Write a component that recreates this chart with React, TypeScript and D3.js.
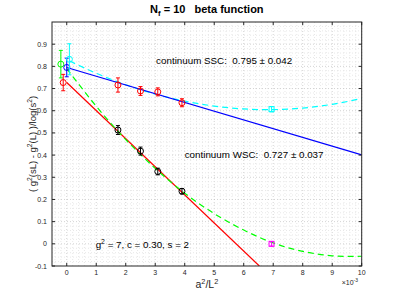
import React, {useEffect, useRef} from "react";
import {select, scaleLinear, line, curveNatural, range} from "d3";

// a^2/L^2 in units of 1e-3 (L = 24, 20, 18, 16)
const latticeX = [1.736, 2.5, 3.086, 3.906];
const sscValues = [0.716, 0.689, 0.685, 0.636];
const sscErrors = [0.032, 0.02, 0.018, 0.018];
const wscValues = [0.513, 0.418, 0.326, 0.237];
const wscErrors = [0.02, 0.018, 0.015, 0.012];

// L = 12 point, only in the quadratic fits
const coarseX = 6.944;
const coarseSsc = {value: 0.607, error: 0.012};
const coarseWsc = {value: 0.0, error: 0.01};

// continuum extrapolations (shifted a bit in x so they don't overlap)
const continuumX = [-0.2, -0.12, 0.0, 0.09];
const continuumY = [0.81, 0.727, 0.795, 0.832];
const continuumErr = [0.062, 0.037, 0.042, 0.07];
const continuumColors = ["#00ff00", "#ff0000", "#0000ff", "#00ffff"];

// linear fits
const sscLinX = [0, 10];
const sscLinY = [0.795, 0.401];
const wscLinX = [0, 6.53];
const wscLinY = [0.727, -0.1];

// quadratic fits
const wscQuadX = [0, 1, 2, 3, 4, 5, 6, 7, 8, 9, 10];
const wscQuadY = [0.79, 0.62, 0.47, 0.34, 0.228, 0.136, 0.062, 0.004, -0.034, -0.054, -0.056];
const sscQuadX = [0.1, 1, 2, 3, 4, 5, 6, 7, 8, 9, 10];
const sscQuadY = [0.824, 0.769, 0.717, 0.675, 0.643, 0.621, 0.608, 0.605, 0.612, 0.629, 0.655];

const xTicks = range(0, 11, 1);
const yTicks = [-0.1, 0, 0.1, 0.2, 0.3, 0.4, 0.5, 0.6, 0.7, 0.8, 0.9];

const FONT = "'Liberation Sans', Arial, Helvetica, sans-serif";
const AXIS_COLOR = "#262626";

const addRichText = (textSel, parts, size) => {
    let shift = 0;
    parts.forEach(p => {
        const target = p.sup ? -0.4 * size : p.sub ? 0.25 * size : 0;
        textSel.append("tspan")
            .attr("dy", target - shift)
            .attr("font-size", p.sup || p.sub ? size * 0.7 : size)
            .text(p.t);
        shift = target;
    });
};

const renderPlot = (svg) => {
    const width = 399;
    const height = 299;
    const margins = {top: 22, right: 37.3, bottom: 33, left: 52};
    const innerWidth = width - margins.left - margins.right;
    const innerHeight = height - margins.top - margins.bottom;

    svg.selectAll("*").remove();

    const xScale = scaleLinear().domain([-0.5, 10]).range([0, innerWidth]);
    const yScale = scaleLinear().domain([-0.1, 1.0]).range([innerHeight, 0]);

    svg.append("defs").append("clipPath").attr("id", "plot-clip")
        .append("rect").attr("width", innerWidth).attr("height", innerHeight);

    const g = svg.append("g")
        .attr("transform", `translate(${margins.left}, ${margins.top})`);

    g.append("rect")
        .attr("width", innerWidth)
        .attr("height", innerHeight)
        .attr("fill", "white");

    // grid (minor + major, all dotted like matlab)
    const grid = g.append("g").attr("class", "grid");
    range(-0.4, 10.01, 0.2).forEach(v => {
        const major = Math.abs(v - Math.round(v)) < 1e-6;
        grid.append("line")
            .attr("x1", xScale(v)).attr("x2", xScale(v))
            .attr("y1", 0).attr("y2", innerHeight)
            .attr("stroke", major ? "#c0c0c0" : "#dedede")
            .attr("stroke-width", 0.7)
            .attr("stroke-dasharray", "1,2");
    });
    range(-0.08, 1.0, 0.02).forEach(v => {
        const major = Math.abs(v * 10 - Math.round(v * 10)) < 1e-6;
        grid.append("line")
            .attr("x1", 0).attr("x2", innerWidth)
            .attr("y1", yScale(v)).attr("y2", yScale(v))
            .attr("stroke", major ? "#c0c0c0" : "#dedede")
            .attr("stroke-width", 0.7)
            .attr("stroke-dasharray", "1,2");
    });

    const plot = g.append("g").attr("clip-path", "url(#plot-clip)");

    const straight = line().x(d => xScale(d[0])).y(d => yScale(d[1]));
    const smooth = line().x(d => xScale(d[0])).y(d => yScale(d[1])).curve(curveNatural);

    const zip = (xs, ys) => xs.map((x, i) => [x, ys[i]]);

    plot.append("path")
        .attr("d", smooth(zip(sscQuadX, sscQuadY)))
        .attr("fill", "none").attr("stroke", "#00ffff")
        .attr("stroke-width", 1.2).attr("stroke-dasharray", "6,4");
    plot.append("path")
        .attr("d", straight(zip(sscLinX, sscLinY)))
        .attr("fill", "none").attr("stroke", "#0000ff").attr("stroke-width", 1.2);
    plot.append("path")
        .attr("d", straight(zip(wscLinX, wscLinY)))
        .attr("fill", "none").attr("stroke", "#ff0000").attr("stroke-width", 1.2);
    plot.append("path")
        .attr("d", smooth(zip(wscQuadX, wscQuadY)))
        .attr("fill", "none").attr("stroke", "#00ff00")
        .attr("stroke-width", 1.2).attr("stroke-dasharray", "6,4");

    // error bar + marker
    const errorPoint = (x, y, err, color, shape) => {
        const px = xScale(x);
        const cap = 2;
        const e = plot.append("g").attr("stroke", color).attr("stroke-width", 1).attr("fill", "none");
        e.append("line").attr("x1", px).attr("x2", px)
            .attr("y1", yScale(y - err)).attr("y2", yScale(y + err));
        e.append("line").attr("x1", px - cap).attr("x2", px + cap)
            .attr("y1", yScale(y - err)).attr("y2", yScale(y - err));
        e.append("line").attr("x1", px - cap).attr("x2", px + cap)
            .attr("y1", yScale(y + err)).attr("y2", yScale(y + err));
        if (shape === "square") {
            e.append("rect").attr("x", px - 2.5).attr("y", yScale(y) - 2.5)
                .attr("width", 5).attr("height", 5);
        } else {
            e.append("circle").attr("cx", px).attr("cy", yScale(y)).attr("r", 3);
        }
    };

    latticeX.forEach((x, i) => errorPoint(x, sscValues[i], sscErrors[i], "#ff0000", "circle"));
    latticeX.forEach((x, i) => errorPoint(x, wscValues[i], wscErrors[i], "#000000", "circle"));
    errorPoint(coarseX, coarseSsc.value, coarseSsc.error, "#00ffff", "square");
    errorPoint(coarseX, coarseWsc.value, coarseWsc.error, "#ff00ff", "square");
    continuumX.forEach((x, i) => errorPoint(x, continuumY[i], continuumErr[i], continuumColors[i], "circle"));

    // box and ticks
    const axes = g.append("g").attr("stroke", AXIS_COLOR).attr("stroke-width", 1);
    axes.append("rect").attr("width", innerWidth).attr("height", innerHeight).attr("fill", "none");
    const tl = 3;
    xTicks.forEach(v => {
        axes.append("line").attr("x1", xScale(v)).attr("x2", xScale(v)).attr("y1", innerHeight).attr("y2", innerHeight - tl);
        axes.append("line").attr("x1", xScale(v)).attr("x2", xScale(v)).attr("y1", 0).attr("y2", tl);
    });
    yTicks.forEach(v => {
        axes.append("line").attr("x1", 0).attr("x2", tl).attr("y1", yScale(v)).attr("y2", yScale(v));
        axes.append("line").attr("x1", innerWidth).attr("x2", innerWidth - tl).attr("y1", yScale(v)).attr("y2", yScale(v));
    });

    // tick labels
    const labels = g.append("g").attr("font-family", FONT).attr("font-size", 7).attr("fill", AXIS_COLOR);
    xTicks.forEach(v => {
        labels.append("text").attr("x", xScale(v)).attr("y", innerHeight + 8.5)
            .attr("text-anchor", "middle").text(v);
    });
    yTicks.forEach(v => {
        labels.append("text").attr("x", -5).attr("y", yScale(v) + 2.5)
            .attr("text-anchor", "end").text(v === 0 ? "0" : v.toFixed(1));
    });
    const exp = labels.append("text").attr("x", innerWidth - 20).attr("y", innerHeight + 18.5);
    addRichText(exp, [{t: "\u00d710"}, {t: "-3", sup: true}], 7);

    // axis labels
    const xl = g.append("text").attr("x", innerWidth / 2).attr("y", innerHeight + 22)
        .attr("text-anchor", "middle").attr("font-family", FONT).attr("fill", AXIS_COLOR);
    addRichText(xl, [{t: "a"}, {t: "2", sup: true}, {t: "/L"}, {t: "2", sup: true}], 10.5);

    const yl = g.append("text")
        .attr("transform", `translate(${-16}, ${innerHeight / 2}) rotate(-90)`)
        .attr("text-anchor", "middle").attr("font-family", FONT).attr("fill", AXIS_COLOR)
        .style("white-space", "pre");
    addRichText(yl, [
        {t: "( g"}, {t: "2", sup: true}, {t: "(sL) - g"}, {t: "2", sup: true},
        {t: "(L) )/log(s"}, {t: "2", sup: true}, {t: ")"}
    ], 9.5);

    // title
    const title = svg.append("text")
        .attr("x", margins.left + innerWidth / 2).attr("y", 13)
        .attr("text-anchor", "middle").attr("font-family", FONT)
        .attr("font-weight", "bold").attr("fill", "#000")
        .style("white-space", "pre");
    addRichText(title, [{t: "N"}, {t: "f", sub: true}, {t: " = 10   beta function"}], 11);

    // annotations
    const note = (x, y, parts) => {
        const t = g.append("text").attr("x", xScale(x)).attr("y", yScale(y))
            .attr("font-family", FONT).attr("fill", "#000").style("white-space", "pre");
        addRichText(t, parts, 9.8);
    };
    note(3.03, 0.81, [{t: "continuum SSC:  0.795 \u00b1 0.042"}]);
    note(4.0, 0.385, [{t: "continuum WSC:  0.727 \u00b1 0.037"}]);
    note(0.98, -0.018, [{t: "g"}, {t: "2", sup: true}, {t: " = 7, c = 0.30, s = 2"}]);
};

const App = () => {
    const svgRef = useRef(null);

    useEffect(() => {
        select(svgRef.current).call(renderPlot);
    });

    return (
        <svg ref={svgRef} width={399} height={299}
             style={{position: "absolute", left: 0, top: 0, background: "white"}}/>
    );
};

export default App;
